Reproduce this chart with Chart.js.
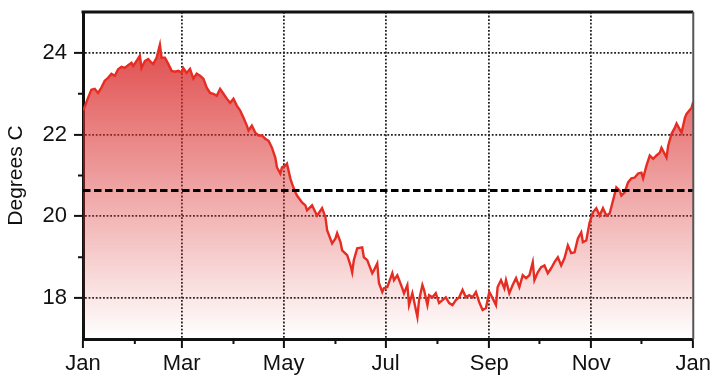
<!DOCTYPE html>
<html>
<head>
<meta charset="utf-8">
<title>Daily temperature</title>
<script src="https://cdn.jsdelivr.net/npm/chart.js@4.4.1/dist/chart.umd.min.js"></script>
<style>
  html, body { margin: 0; padding: 0; background: #fff; }
  #wrap { width: 714px; height: 378px; }
</style>
</head>
<body>
<div id="wrap"><canvas id="suhu" width="714" height="378"></canvas></div>
<script>
// month ticks (day of year where each month starts)
const monthNames = ['Jan', 'Feb', 'Mar', 'Apr', 'May', 'Jun', 'Jul', 'Aug', 'Sep', 'Oct', 'Nov', 'Dec', 'Jan'];
const monthStarts = [0, 31, 59, 90, 120, 151, 181, 212, 243, 273, 304, 334, 365];
const yTicks = [17, 18, 19, 20, 21, 22, 23, 24, 25];

// long-term mean
const meanTemp = 20.63;

// daily temperature (day of year, degrees C)
const days = [
  0, 1, 3, 5, 7, 9, 11, 13, 15, 17, 19, 21, 23, 25, 27, 29, 30, 32, 34, 35,
  37, 39, 41, 42, 44, 46, 47, 49, 51, 53, 55, 57, 59, 60, 62, 64, 66, 68, 70, 72,
  74, 76, 78, 80, 82, 84, 86, 88, 90, 92, 94, 96, 98, 99, 101, 103, 105, 107, 109, 111,
  113, 115, 116, 118, 119, 121, 122, 124, 125, 127, 128, 131, 133, 134, 137, 139, 140, 143, 145, 146,
  149, 151, 152, 154, 155, 158, 160, 161, 162, 164, 167, 168, 170, 173, 174, 176, 177, 179, 180, 182,
  185, 186, 188, 191, 192, 194, 195, 197, 200, 201, 203, 204, 206, 207, 209, 211, 213, 215, 217, 219,
  221, 223, 225, 227, 229, 231, 233, 235, 237, 239, 241, 243, 245, 247, 248, 250, 252, 253, 255, 257,
  259, 261, 263, 265, 267, 269, 270, 272, 274, 276, 278, 280, 282, 284, 286, 288, 290, 292, 294, 296,
  298, 299, 301, 303, 305, 307, 309, 311, 313, 315, 317, 319, 321, 322, 324, 326, 328, 330, 332, 334,
  335, 337, 339, 341, 343, 345, 346, 349, 350, 352, 354, 355, 358, 360, 361, 364, 365
];
const temps = [
  22.59, 22.68, 22.90, 23.10, 23.12, 23.02, 23.15, 23.32, 23.39, 23.49, 23.44, 23.60, 23.66, 23.63, 23.70, 23.76, 23.68, 23.80, 23.93, 23.63,
  23.80, 23.85, 23.76, 23.73, 23.88, 24.20, 23.88, 23.88, 23.73, 23.56, 23.54, 23.56, 23.52, 23.63, 23.51, 23.61, 23.37, 23.49, 23.44, 23.37,
  23.15, 23.02, 23.00, 22.95, 23.12, 23.00, 22.88, 22.78, 22.88, 22.71, 22.59, 22.41, 22.22, 22.10, 22.22, 22.05, 21.98, 21.98, 21.90, 21.85,
  21.68, 21.44, 21.20, 21.05, 21.20, 21.24, 21.29, 20.93, 20.80, 20.59, 20.51, 20.34, 20.27, 20.15, 20.27, 20.10, 20.02, 20.20, 19.98, 19.66,
  19.34, 19.46, 19.59, 19.37, 19.17, 19.05, 18.80, 18.63, 18.93, 19.22, 19.24, 19.00, 18.93, 18.61, 18.68, 18.85, 18.37, 18.15, 18.24, 18.27,
  18.61, 18.44, 18.56, 18.24, 18.12, 18.32, 17.83, 18.12, 17.54, 17.95, 18.32, 18.20, 17.83, 18.07, 18.02, 18.12, 17.88, 17.95, 18.02, 17.88,
  17.83, 17.95, 18.02, 18.20, 18.02, 18.07, 18.02, 18.15, 17.90, 17.71, 17.76, 18.15, 18.00, 17.83, 18.27, 18.44, 18.24, 18.44, 18.12, 18.32,
  18.49, 18.27, 18.56, 18.49, 18.56, 18.88, 18.44, 18.63, 18.76, 18.80, 18.61, 18.73, 18.88, 19.00, 18.80, 18.98, 19.29, 19.10, 19.12, 19.46,
  19.61, 19.37, 19.41, 19.85, 20.10, 20.20, 20.02, 20.20, 20.02, 20.07, 20.39, 20.71, 20.63, 20.51, 20.59, 20.83, 20.93, 20.95, 21.05, 21.07,
  20.93, 21.24, 21.49, 21.41, 21.49, 21.56, 21.68, 21.44, 21.73, 22.02, 22.17, 22.27, 22.05, 22.41, 22.51, 22.66, 22.80
];

const points = days.map((d, i) => ({ x: d, y: temps[i] }));
const fontFamily = "'Liberation Sans', Arial, Helvetica, sans-serif";
const ink = '#111';
const gridInk = '#222';

// red fill fading to white towards the bottom
function redFill(context) {
  const area = context.chart.chartArea;
  if (!area) return 'rgba(218, 40, 40, 0.5)';
  const g = context.chart.ctx.createLinearGradient(0, area.top, 0, area.bottom);
  g.addColorStop(0, 'rgba(218, 40, 40, 0.92)');
  g.addColorStop(1, 'rgba(218, 40, 40, 0.0)');
  return g;
}

// short tick marks on odd months / odd degrees, plus the top and right frame
const frameAndMinor = {
  id: 'frameAndMinor',
  afterDraw(chart) {
    const ctx = chart.ctx;
    const xs = chart.scales.x;
    const ys = chart.scales.y;
    const a = chart.chartArea;
    ctx.save();
    ctx.strokeStyle = ink;
    ctx.lineWidth = 2;
    ctx.beginPath();
    monthStarts.forEach((d, i) => {
      if (i % 2 === 1) {
        const px = xs.getPixelForValue(d);
        ctx.moveTo(px, a.bottom);
        ctx.lineTo(px, a.bottom + 5);
      }
    });
    yTicks.forEach(v => {
      if (v % 2 === 1 && v > 17 && v < 25) {
        const py = ys.getPixelForValue(v);
        ctx.moveTo(a.left, py);
        ctx.lineTo(a.left - 5, py);
      }
    });
    ctx.stroke();

    ctx.lineWidth = 3;
    ctx.beginPath();
    ctx.moveTo(a.left - 1.5, a.top);
    ctx.lineTo(a.right, a.top);
    ctx.stroke();
    ctx.strokeStyle = '#555';
    ctx.lineWidth = 2;
    ctx.beginPath();
    ctx.moveTo(a.right, a.top);
    ctx.lineTo(a.right, a.bottom);
    ctx.stroke();
    ctx.restore();
  }
};

const config = {
  type: 'line',
  data: {
    datasets: [
      {
        label: 'Mean',
        data: [{ x: 0, y: meanTemp }, { x: 365, y: meanTemp }],
        borderColor: '#000',
        borderWidth: 3,
        borderDash: [7.5, 3.5],
        pointRadius: 0,
        fill: false
      },
      {
        label: 'Temperature',
        data: points,
        borderColor: 'rgb(230, 45, 35)',
        borderWidth: 2.4,
        backgroundColor: redFill,
        fill: 'start',
        tension: 0,
        pointRadius: 0
      }
    ]
  },
  options: {
    responsive: false,
    animation: false,
    layout: { padding: { left: 4, right: 20, top: 12, bottom: 0 } },
    plugins: {
      legend: { display: false },
      tooltip: { enabled: false }
    },
    scales: {
      x: {
        type: 'linear',
        min: 0,
        max: 365,
        afterBuildTicks: s => { s.ticks = monthStarts.map(v => ({ value: v })); },
        afterFit: s => { s.height = 39; },
        ticks: {
          autoSkip: false,
          maxRotation: 0,
          padding: 3,
          color: ink,
          font: { family: fontFamily, size: 22 },
          callback: (v, i) => (i % 2 === 0 ? monthNames[i] : '')
        },
        grid: {
          color: c => (c.tick && c.index % 2 === 0 && c.index > 0 && c.index < 12 ? gridInk : 'transparent'),
          lineWidth: 1.8,
          tickLength: 9,
          tickWidth: 2,
          tickColor: c => (c.index % 2 === 0 ? ink : 'transparent')
        },
        border: { color: ink, width: 3, dash: [1.8, 1.8] }
      },
      y: {
        min: 17,
        max: 25,
        afterBuildTicks: s => { s.ticks = yTicks.map(v => ({ value: v })); },
        afterFit: s => { s.width = 79; s.paddingTop = 0; s.paddingBottom = 0; },
        ticks: {
          padding: 7,
          color: ink,
          font: { family: fontFamily, size: 22 },
          callback: v => (v % 2 === 0 ? String(v) : '')
        },
        title: {
          display: true,
          text: 'Degrees C',
          color: ink,
          font: { family: fontFamily, size: 21 },
          padding: { top: 0, bottom: 4 }
        },
        grid: {
          color: c => (c.tick && c.tick.value % 2 === 0 && c.tick.value > 17 && c.tick.value < 25 ? gridInk : 'transparent'),
          lineWidth: 1.8,
          tickLength: 9,
          tickWidth: 2,
          tickColor: c => (c.tick && c.tick.value % 2 === 0 && c.tick.value > 17 && c.tick.value < 25 ? ink : 'transparent')
        },
        border: { color: ink, width: 3, dash: [1.8, 1.8] }
      }
    }
  },
  plugins: [frameAndMinor]
};

const myChart = new Chart(document.getElementById('suhu'), config);
</script>
</body>
</html>
